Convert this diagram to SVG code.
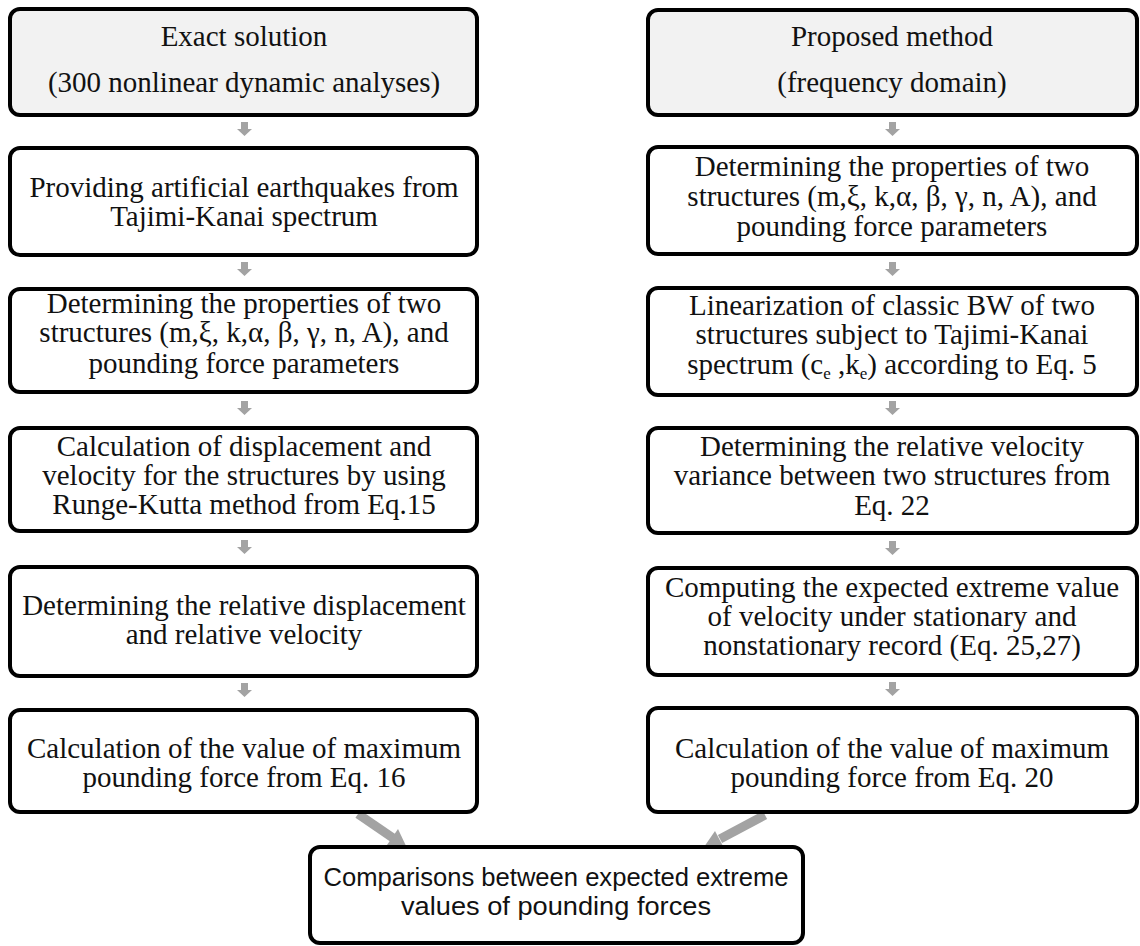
<svg xmlns="http://www.w3.org/2000/svg" width="1140" height="946" viewBox="0 0 1140 946">
<style>
.box{fill:#fff;stroke:#000;stroke-width:4}
.hdr{fill:#f2f2f2}
.t{font-family:"Liberation Serif","Times New Roman",serif;font-size:29px;fill:#111;text-anchor:middle}
.s{font-family:"Liberation Sans",Arial,sans-serif;font-size:26px;fill:#111;text-anchor:middle}
.arr{fill:#a3a3a3}
.sub{font-size:17px}
</style>
<rect width="1140" height="946" fill="#fff"/>
<g id="connectors">
<path class="arr" d="M241,122 h7 v7 h4 l-7.5,7 l-7.5,-7 h4 z"/>
<path class="arr" d="M241,262 h7 v7 h4 l-7.5,7 l-7.5,-7 h4 z"/>
<path class="arr" d="M241,401 h7 v7 h4 l-7.5,7 l-7.5,-7 h4 z"/>
<path class="arr" d="M241,540 h7 v7 h4 l-7.5,7 l-7.5,-7 h4 z"/>
<path class="arr" d="M241,683 h7 v7 h4 l-7.5,7 l-7.5,-7 h4 z"/>
<path class="arr" d="M889,122 h7 v7 h4 l-7.5,7 l-7.5,-7 h4 z"/>
<path class="arr" d="M889,262 h7 v7 h4 l-7.5,7 l-7.5,-7 h4 z"/>
<path class="arr" d="M889,401 h7 v7 h4 l-7.5,7 l-7.5,-7 h4 z"/>
<path class="arr" d="M889,541 h7 v7 h4 l-7.5,7 l-7.5,-7 h4 z"/>
<path class="arr" d="M889,682 h7 v7 h4 l-7.5,7 l-7.5,-7 h4 z"/>
<line x1="358" y1="814" x2="393" y2="838" stroke="#a3a3a3" stroke-width="9"/>
<polygon class="arr" points="407,848 387,845 398,829"/>
<line x1="765" y1="815" x2="720" y2="839" stroke="#a3a3a3" stroke-width="9"/>
<polygon class="arr" points="704,847 724,848 715,831"/>
</g>
<g id="L1"><rect class="box hdr" x="10" y="9" width="467" height="106" rx="10"/>
<text class="t" x="244" y="46">Exact solution</text>
<text class="t" x="244" y="92">(300 nonlinear  dynamic analyses)</text></g>
<g id="L2"><rect class="box" x="10" y="148" width="467" height="107" rx="10"/>
<text class="t" x="244" y="197">Providing artificial earthquakes from</text>
<text class="t" x="244" y="226">Tajimi-Kanai spectrum</text></g>
<g id="L3"><rect class="box" x="10" y="289" width="467" height="103" rx="10"/>
<text class="t" x="244" y="313">Determining the properties of two</text>
<text class="t" x="244" y="342">structures (m,ξ, k,α, β, γ, n, A), and</text>
<text class="t" x="244" y="373">pounding force parameters</text></g>
<g id="L4"><rect class="box" x="10" y="428" width="467" height="103" rx="10"/>
<text class="t" x="244" y="456">Calculation of displacement and</text>
<text class="t" x="244" y="485">velocity for the structures by using</text>
<text class="t" x="244" y="514">Runge-Kutta method from Eq.15</text></g>
<g id="L5"><rect class="box" x="10" y="567" width="467" height="109" rx="10"/>
<text class="t" x="244" y="615">Determining the relative displacement</text>
<text class="t" x="244" y="644">and relative velocity</text></g>
<g id="L6"><rect class="box" x="10" y="710" width="467" height="102" rx="10"/>
<text class="t" x="244" y="758">Calculation of the value of maximum</text>
<text class="t" x="244" y="787">pounding force from Eq. 16</text></g>
<g id="R1"><rect class="box hdr" x="648" y="10" width="489" height="105" rx="10"/>
<text class="t" x="892" y="46">Proposed method</text>
<text class="t" x="892" y="92">(frequency domain)</text></g>
<g id="R2"><rect class="box" x="648" y="147" width="489" height="107" rx="10"/>
<text class="t" x="892" y="176">Determining the properties of two</text>
<text class="t" x="892" y="206">structures (m,ξ, k,α, β, γ, n, A), and</text>
<text class="t" x="892" y="236">pounding force parameters</text></g>
<g id="R3"><rect class="box" x="648" y="288" width="489" height="107" rx="10"/>
<text class="t" x="892" y="315">Linearization of classic BW of two</text>
<text class="t" x="892" y="344">structures subject to Tajimi-Kanai</text>
<text class="t" x="892" y="374">spectrum (c<tspan class="sub" dy="5">e</tspan><tspan dy="-5"> ,k</tspan><tspan class="sub" dy="5">e</tspan><tspan dy="-5">) according to Eq. 5</tspan></text></g>
<g id="R4"><rect class="box" x="648" y="428" width="489" height="105" rx="10"/>
<text class="t" x="892" y="456">Determining the relative velocity</text>
<text class="t" x="892" y="485">variance between two structures from</text>
<text class="t" x="892" y="515">Eq. 22</text></g>
<g id="R5"><rect class="box" x="648" y="568" width="489" height="107" rx="10"/>
<text class="t" x="892" y="597">Computing the expected extreme value</text>
<text class="t" x="892" y="626">of velocity under stationary and</text>
<text class="t" x="892" y="655">nonstationary record (Eq. 25,27)</text></g>
<g id="R6"><rect class="box" x="648" y="708" width="489" height="104" rx="10"/>
<text class="t" x="892" y="758">Calculation of the value of maximum</text>
<text class="t" x="892" y="787">pounding force from Eq. 20</text></g>
<g id="B"><rect class="box" x="310" y="847" width="493" height="96" rx="10"/>
<text class="s" x="556" y="886" textLength="465" lengthAdjust="spacingAndGlyphs">Comparisons between expected extreme</text>
<text class="s" x="556" y="915" textLength="310" lengthAdjust="spacingAndGlyphs">values of pounding forces</text></g>
</svg>
